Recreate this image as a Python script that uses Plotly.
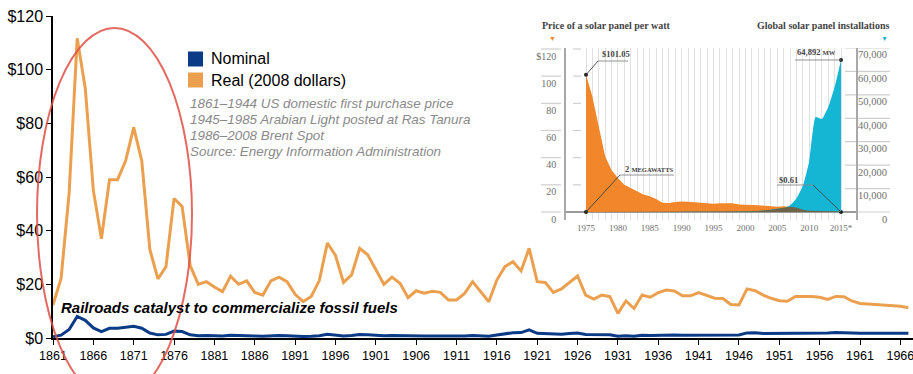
import plotly.graph_objects as go

# ---------------- main chart data (crude oil price, $/bbl) ----------------
years = list(range(1861, 1968))
real_2008 = [12.3, 22.2, 54, 111.7, 93, 55, 37, 59, 59, 66, 78.5, 66, 33, 22, 26.6, 52, 49, 27, 20, 21,
             19, 17.3, 23, 20, 21.3, 17, 16, 21.3, 22.7, 21, 16.3, 13.6, 15.5, 21.4, 35.4, 30.8, 20.7, 23.5,
             33.4, 31, 25.5, 20, 22.7, 20.4, 15, 17.6, 16.7, 17.4, 17, 14.2, 14.2, 16.6, 21, 17.3, 13.5,
             21.6, 26.6, 28.4, 25, 33.4, 21, 20.7, 17, 18.3, 20.6, 23.1, 16, 14.5, 16, 15.4, 9.2, 13.8, 11,
             16, 15.2, 16.9, 17.9, 17.5, 15.7, 15.7, 16.9, 15.7, 14.8, 14.7, 12.5, 12.3, 18.3, 17.6, 16,
             14.8, 13.9, 13.7, 15.5, 15.5, 15.5, 15.2, 14.4, 15.5, 15.4, 13.8, 12.9, 12.7, 12.5, 12.4,
             12.2, 11.8, 11.3]
nominal = [0.49, 1.05, 3.15, 8.06, 6.59, 3.74, 2.41, 3.63, 3.64, 3.86, 4.34, 3.64, 1.83, 1.17, 1.35,
           2.56, 2.42, 1.19, 0.86, 0.95, 0.86, 0.78, 1.00, 0.84, 0.88, 0.71, 0.67, 0.88, 0.94, 0.87,
           0.67, 0.56, 0.64, 0.84, 1.36, 1.18, 0.79, 0.91, 1.29, 1.19, 0.96, 0.80, 0.94, 0.86, 0.62,
           0.73, 0.72, 0.72, 0.70, 0.61, 0.61, 0.74, 0.95, 0.81, 0.64, 1.10, 1.56, 1.98, 2.01, 3.07,
           1.73, 1.61, 1.34, 1.43, 1.68, 1.88, 1.30, 1.17, 1.27, 1.19, 0.65, 0.87, 0.67, 1.00, 0.97,
           1.09, 1.18, 1.13, 1.02, 1.02, 1.14, 1.19, 1.20, 1.21, 1.05, 1.12, 1.90, 1.99, 1.71, 1.71,
           1.71, 1.71, 1.93, 1.93, 1.93, 1.93, 1.90, 2.08, 1.90, 1.80, 1.80, 1.80, 1.80, 1.80, 1.80,
           1.80, 1.80]
y_ticks = [0, 20, 40, 60, 80, 100, 120]
y_ticktext = ["$0", "$20", "$40", "$60", "$80", "$100", "$120"]
x_ticks = list(range(1861, 1968, 5))
legend_names = ["Nominal", "Real (2008 dollars)"]
source_lines = ["1861\u20131944 US domestic first purchase price",
                "1945\u20131985 Arabian Light posted at Ras Tanura",
                "1986\u20132008 Brent Spot",
                "Source: Energy Information Administration"]

# ---------------- inset data (solar) ----------------
solar_years = list(range(1975, 2016))
panel_price = [101.05, 85, 63, 41, 31, 25, 20, 17.6, 15.2, 12.9, 11.6, 9.6, 6.8, 6.6, 7.4, 7.8, 7.6,
               7.1, 7.1, 6.2, 6.1, 6.4, 6.6, 6.4, 5.6, 5.1, 5.1, 4.9, 4.4, 4.2, 3.9, 4.2, 3.9, 3.4,
               1.7, 1.0, 0.8, 0.7, 0.66, 0.63, 0.61]
installs_mw = [2, 3, 4, 5, 6, 7, 9, 11, 14, 17, 20, 24, 28, 33, 40, 46, 55, 58, 60, 70, 78, 90, 125,
               155, 200, 280, 330, 480, 650, 1000, 1400, 1700, 2800, 5800, 11000, 21500, 40500,
               39700, 44800, 53400, 64892]
price_ticks = [0, 20, 40, 60, 80, 100, 120]
price_ticktext = ["0", "20", "40", "60", "80", "100", "$120"]
mw_ticks = [0, 10000, 20000, 30000, 40000, 50000, 60000, 70000]
inset_label_years = list(range(1975, 2016, 5))

ORANGE = "#EBA04F"
NAVY = "#0B3A86"
SOL_OR = "#F2862A"
SOL_CY = "#14B6D4"
SOL_DK = "#6E6549"
GRAY_TXT = "#6f6f6f"
SANS = "Liberation Sans, Arial, sans-serif"
SERIF = "Liberation Serif, Georgia, serif"

# pixel geometry helpers (figure 913x374; main plot area x 53..913, y 16..338)
L, T, W, H = 53, 16, 860, 322
def px(xp):
    return (xp - L) / W
def py(yp):
    return (T + H - yp) / H

# inset axis scales (pixels per unit)
Y2_PX = 163 / 120.0       # price axis
Y3_PX = 164 / 70000.0     # MW axis
X2_PX = 6.375             # per year
inset_top, inset_base, inset_bot = 48, 212, 220
y2_range = [-(inset_bot - inset_base) / Y2_PX, (inset_base - inset_top) / Y2_PX]
y3_range = [-(inset_bot - inset_base) / Y3_PX, (inset_base - inset_top) / Y3_PX]
x2_range = [1975 - (586 - 566) / X2_PX, 2015 + (856 - 841) / X2_PX]
ratio = Y2_PX / Y3_PX
overlap = [min(m, p * ratio) for m, p in zip(installs_mw, panel_price)]

fig = go.Figure()

# ---- main series ----
fig.add_trace(go.Scatter(x=years, y=real_2008, mode="lines", line=dict(color=ORANGE, width=3),
                         name=legend_names[1], showlegend=False, hoverinfo="skip"))
fig.add_trace(go.Scatter(x=years, y=nominal, mode="lines", line=dict(color=NAVY, width=3),
                         name=legend_names[0], showlegend=False, hoverinfo="skip"))

# ---- inset series ----
fig.add_trace(go.Scatter(x=solar_years, y=panel_price, xaxis="x2", yaxis="y2", mode="lines",
                         line=dict(width=0, color=SOL_OR), fill="tozeroy", fillcolor=SOL_OR,
                         showlegend=False, hoverinfo="skip"))
fig.add_trace(go.Scatter(x=solar_years, y=installs_mw, xaxis="x2", yaxis="y3", mode="lines",
                         line=dict(width=0, color=SOL_CY, shape="spline", smoothing=0.4),
                         fill="tozeroy", fillcolor=SOL_CY, showlegend=False, hoverinfo="skip"))
fig.add_trace(go.Scatter(x=solar_years, y=overlap, xaxis="x2", yaxis="y3", mode="lines",
                         line=dict(width=0, color=SOL_DK), fill="tozeroy", fillcolor=SOL_DK,
                         showlegend=False, hoverinfo="skip"))
# marker dots
fig.add_trace(go.Scatter(x=[1975, 1975, 2015], y=[panel_price[0], 0, 0], xaxis="x2", yaxis="y2",
                         mode="markers", marker=dict(size=4, color="#222"), showlegend=False,
                         hoverinfo="skip"))
fig.add_trace(go.Scatter(x=[2015], y=[installs_mw[-1]], xaxis="x2", yaxis="y3",
                         mode="markers", marker=dict(size=4, color="#222"), showlegend=False,
                         hoverinfo="skip"))

shapes = []
annotations = []

# legend (square swatches + labels)
for i, (name, col) in enumerate(zip(legend_names, [NAVY, ORANGE])):
    cy = 59 + 21 * i
    shapes.append(dict(type="rect", xref="paper", yref="paper", x0=px(188), x1=px(203),
                       y0=py(cy + 7.5), y1=py(cy - 7.5), fillcolor=col, line=dict(width=0)))
    annotations.append(dict(xref="paper", yref="paper", x=px(209), y=py(cy), xanchor="left",
                            yanchor="middle", showarrow=False, text=name,
                            font=dict(family=SANS, size=16, color="black")))

# red ellipse highlight
shapes.append(dict(type="circle", xref="paper", yref="paper",
                   x0=px(37), x1=px(192), y0=py(400), y1=py(28),
                   line=dict(color="rgba(222,80,70,0.85)", width=2), layer="above"))

# text on main chart
for i, s in enumerate(source_lines):
    annotations.append(dict(xref="paper", yref="paper", x=px(188), y=py(103 + 16 * i),
                            xanchor="left", yanchor="middle", showarrow=False,
                            text="<i>" + s + "</i>",
                            font=dict(family=SANS, size=13.4, color="#8a8a8a")))
annotations.append(dict(xref="paper", yref="paper", x=px(59), y=py(307.5), xanchor="left",
                        yanchor="middle", showarrow=False,
                        text="<b><i>Railroads catalyst to commercialize fossil fuels</i></b>",
                        font=dict(family=SANS, size=15, color="black")))

# ---- inset decorations ----
seg_col = "#cfcfcf"
for v in price_ticks:
    shapes.append(dict(type="line", xref="paper", yref="y2", x0=px(541), x1=px(561), y0=v, y1=v,
                       line=dict(color=seg_col, width=1.2)))
    shapes.append(dict(type="line", xref="paper", yref="y2", x0=px(573), x1=px(581), y0=v, y1=v,
                       line=dict(color=seg_col, width=1.2), layer="below"))
for v in mw_ticks:
    shapes.append(dict(type="line", xref="paper", yref="y3", x0=px(845), x1=px(890), y0=v, y1=v,
                       line=dict(color=seg_col, width=1.2), layer="below"))
    annotations.append(dict(xref="paper", yref="y3", x=px(889), y=v, yshift=-7, xanchor="right",
                            yanchor="middle", showarrow=False, text=f"{v:,}",
                            font=dict(family=SERIF, size=10.5, color=GRAY_TXT)))

annotations.append(dict(xref="paper", yref="paper", x=px(540), y=py(26), xanchor="left",
                        yanchor="middle", showarrow=False,
                        text="<b>Price of a solar panel per watt</b>",
                        font=dict(family=SERIF, size=10, color="#444")))
annotations.append(dict(xref="paper", yref="paper", x=px(891), y=py(26), xanchor="right",
                        yanchor="middle", showarrow=False,
                        text="<b>Global solar panel installations</b>",
                        font=dict(family=SERIF, size=10, color="#444")))
annotations.append(dict(xref="paper", yref="paper", x=px(552), y=py(38.5), xanchor="center",
                        yanchor="middle", showarrow=False, text="\u25BC",
                        font=dict(size=7, color=SOL_OR)))
annotations.append(dict(xref="paper", yref="paper", x=px(884), y=py(38.5), xanchor="center",
                        yanchor="middle", showarrow=False, text="\u25BC",
                        font=dict(size=7, color=SOL_CY)))

lead = dict(color="#444", width=0.9)
under = dict(color="#888", width=0.9)
# $101.05
p0 = (1975, panel_price[0])
knee_y = (inset_base - 61) / Y2_PX
shapes.append(dict(type="line", xref="x2", yref="y2", x0=p0[0], y0=p0[1],
                   x1=1975 + 12 / X2_PX, y1=knee_y, line=lead))
shapes.append(dict(type="line", xref="x2", yref="y2", x0=1975 + 12 / X2_PX, y0=knee_y,
                   x1=1975 + 42 / X2_PX, y1=knee_y, line=under))
annotations.append(dict(xref="x2", yref="y2", x=1975 + 14 / X2_PX, y=knee_y, yshift=7,
                        xanchor="left", yanchor="middle", showarrow=False,
                        text="<b>$101.05</b>", font=dict(family=SERIF, size=8.5, color="#444")))
# 64,892 MW
shapes.append(dict(type="line", xref="x2", yref="y3", x0=2015, y0=installs_mw[-1],
                   x1=2015 - 46 / X2_PX, y1=installs_mw[-1], line=under))
annotations.append(dict(xref="x2", yref="y3", x=2015 - 3 / X2_PX, y=installs_mw[-1], yshift=8,
                        xanchor="right", yanchor="middle", showarrow=False,
                        text="<b>64,892 <span style='font-size:6.5px'>MW</span></b>",
                        font=dict(family=SERIF, size=8.5, color="#444")))
# 2 MEGAWATTS
k2 = (inset_base - 175) / Y2_PX
shapes.append(dict(type="line", xref="x2", yref="y2", x0=1975, y0=0,
                   x1=1975 + 34 / X2_PX, y1=k2, line=lead))
shapes.append(dict(type="line", xref="x2", yref="y2", x0=1975 + 34 / X2_PX, y0=k2,
                   x1=1975 + 88 / X2_PX, y1=k2, line=under))
annotations.append(dict(xref="x2", yref="y2", x=1975 + 37 / X2_PX, y=k2, yshift=6,
                        xanchor="left", yanchor="middle", showarrow=False,
                        text="<b>2 <span style='font-size:6.5px'>MEGAWATTS</span></b>",
                        font=dict(family=SERIF, size=8.5, color="#444")))
# $0.61
k3 = (inset_base - 185) / Y2_PX
shapes.append(dict(type="line", xref="x2", yref="y2", x0=2015, y0=0,
                   x1=2015 - 28 / X2_PX, y1=k3, line=lead))
shapes.append(dict(type="line", xref="x2", yref="y2", x0=2015 - 28 / X2_PX, y0=k3,
                   x1=2015 - 64 / X2_PX, y1=k3, line=under))
annotations.append(dict(xref="x2", yref="y2", x=2015 - 64 / X2_PX, y=k3, yshift=5,
                        xanchor="left", yanchor="middle", showarrow=False,
                        text="<b>$0.61</b>", font=dict(family=SERIF, size=8.5, color="#444")))

inset_ticktext = [str(y) + ("*" if y == 2015 else "") if y in inset_label_years else ""
                  for y in solar_years]

fig.update_layout(
    width=913, height=374,
    margin=dict(l=L, r=913 - L - W, t=T, b=374 - T - H),
    paper_bgcolor="white", plot_bgcolor="rgba(0,0,0,0)",
    font=dict(family=SANS, color="black"),
    showlegend=False,
    xaxis=dict(range=[1861, 1861 + W / 8.07], tickvals=x_ticks, ticks="outside", ticklen=5,
               tickwidth=1.2, tickcolor="black", showline=True, linecolor="black", linewidth=1.5,
               showgrid=False, zeroline=False, ticklabeloverflow="allow",
               tickfont=dict(family=SANS, size=12.5, color="black")),
    yaxis=dict(range=[0, 120], tickvals=y_ticks, ticktext=y_ticktext, ticks="outside", ticklen=5,
               tickwidth=1.2, tickcolor="black", showline=True, linecolor="black", linewidth=1.5,
               showgrid=False, zeroline=False, tickfont=dict(family=SANS, size=16, color="black")),
    xaxis2=dict(domain=[px(566), px(856)], anchor="y2", range=x2_range, tickvals=solar_years,
                ticktext=inset_ticktext, ticks="", showgrid=True,
                gridcolor="rgba(195,195,195,0.5)", gridwidth=1, layer="above traces",
                showline=False, zeroline=False, ticklabelstandoff=1,
                tickfont=dict(family=SERIF, size=9, color=GRAY_TXT)),
    yaxis2=dict(domain=[py(inset_bot), py(inset_top)], anchor="x2", range=y2_range,
                tickvals=price_ticks, ticktext=price_ticktext, ticks="", showgrid=False,
                zeroline=True, zerolinecolor="#9a9a9a", zerolinewidth=1.5,
                showline=True, linecolor="#a8a8a8", linewidth=1.5, ticklabelshift=7,
                ticklabelstandoff=6, tickfont=dict(family=SERIF, size=10, color=GRAY_TXT)),
    yaxis3=dict(overlaying="y2", anchor="x2", side="right", range=y3_range, showgrid=False,
                zeroline=False, showticklabels=False, ticks="", showline=True,
                linecolor="#a8a8a8", linewidth=1.5),
    shapes=shapes, annotations=annotations,
)

fig.write_html("out.html", config={"displayModeBar": False},
               post_script="document.body.style.margin='0';")
